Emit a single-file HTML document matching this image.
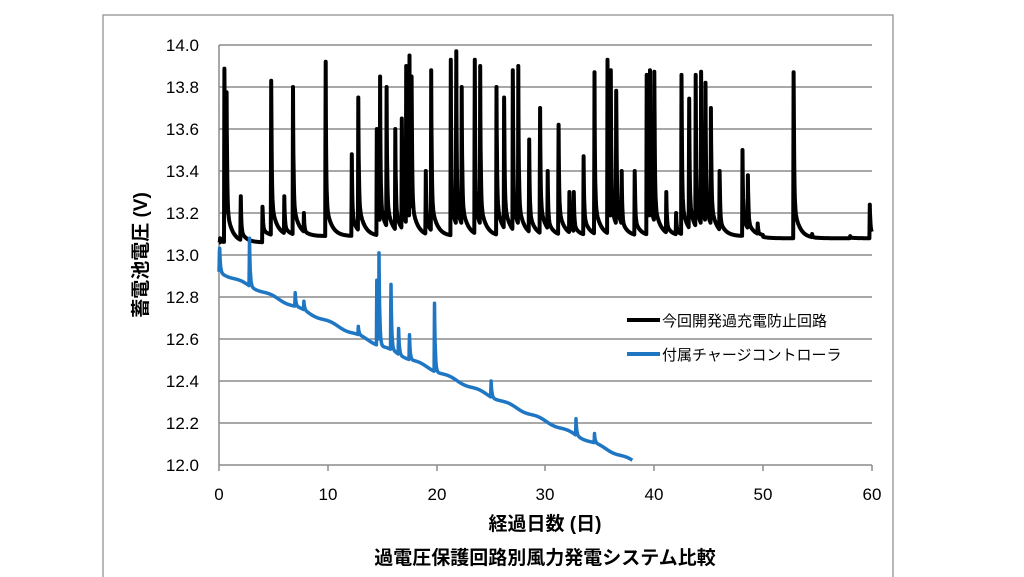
<!DOCTYPE html>
<html><head><meta charset="utf-8"><style>
html,body{margin:0;padding:0;background:#fff;width:1024px;height:577px;overflow:hidden}
svg{display:block}
svg text{font-family:"Liberation Sans","Noto Sans CJK JP",sans-serif}
</style></head><body>
<svg id="s" width="1024" height="577" xmlns="http://www.w3.org/2000/svg">
<rect x="103" y="15" width="790" height="570" fill="#fff" stroke="#a0a0a0" stroke-width="1.5"/>
<g stroke="#8c8c8c" stroke-width="1.5">
<line x1="219" y1="45" x2="872" y2="45"/><line x1="219" y1="87" x2="872" y2="87"/>
<line x1="219" y1="129" x2="872" y2="129"/><line x1="219" y1="171" x2="872" y2="171"/>
<line x1="219" y1="213" x2="872" y2="213"/><line x1="219" y1="255" x2="872" y2="255"/>
<line x1="219" y1="297" x2="872" y2="297"/><line x1="219" y1="339" x2="872" y2="339"/>
<line x1="219" y1="381" x2="872" y2="381"/><line x1="219" y1="423" x2="872" y2="423"/>
<line x1="219" y1="465" x2="872" y2="465"/>
<line x1="219" y1="45" x2="219" y2="465"/>
<line x1="219" y1="465" x2="219" y2="471"/><line x1="328" y1="465" x2="328" y2="471"/>
<line x1="437" y1="465" x2="437" y2="471"/><line x1="545" y1="465" x2="545" y2="471"/>
<line x1="654" y1="465" x2="654" y2="471"/><line x1="763" y1="465" x2="763" y2="471"/>
<line x1="872" y1="465" x2="872" y2="471"/>
</g>
<g font-size="17" text-anchor="end" fill="#000">
<text x="199" y="51">14.0</text><text x="199" y="93">13.8</text><text x="199" y="135">13.6</text>
<text x="199" y="177">13.4</text><text x="199" y="219">13.2</text><text x="199" y="261">13.0</text>
<text x="199" y="303">12.8</text><text x="199" y="345">12.6</text><text x="199" y="387">12.4</text>
<text x="199" y="429">12.2</text><text x="199" y="471">12.0</text>
</g>
<g font-size="17" text-anchor="middle">
<text x="219" y="500">0</text><text x="328" y="500">10</text><text x="437" y="500">20</text>
<text x="545" y="500">30</text><text x="654" y="500">40</text><text x="763" y="500">50</text><text x="872" y="500">60</text>
</g>
<text x="545" y="530" font-size="19" font-weight="bold" text-anchor="middle">経過日数 (日)</text>
<text x="545" y="564" font-size="19" font-weight="bold" text-anchor="middle">過電圧保護回路別風力発電システム比較</text>
<text transform="translate(147,255) rotate(-90)" font-size="19" font-weight="bold" text-anchor="middle">蓄電池電圧 (V)</text>
<line x1="627" y1="320" x2="660" y2="320" stroke="#000" stroke-width="4"/>
<text x="662" y="326" font-size="15">今回開発過充電防止回路</text>
<line x1="627" y1="354" x2="660" y2="354" stroke="#1f77c4" stroke-width="4"/>
<text x="662" y="360" font-size="15">付属チャージコントローラ</text>
<path id="blk" fill="none" stroke="#000" stroke-width="4" stroke-linejoin="round"/>
<path id="blu" fill="none" stroke="#1f77c4" stroke-width="3.5" stroke-linejoin="round"/>
</svg>
<script>
function X(t){return 219+t*653/60}
function Y(v){return 465-(v-12)*210}
var bs=[[0.1,13.08],[0.5,13.95],[0.7,13.8],[2,13.28],[4,13.23],[4.8,13.83],[6,13.28],[6.8,13.8],[7.8,13.2],[9.8,13.92],[12.2,13.48],[12.8,13.75],[14.5,13.6],[14.8,13.85],[15.4,13.8],[16.2,13.6],[16.8,13.65],[17.2,13.9],[17.5,13.95],[17.7,13.85],[19,13.4],[19.5,13.88],[21.3,13.93],[21.8,13.97],[22.3,13.8],[23.5,13.93],[24,13.9],[25.5,13.8],[26.2,13.75],[27,13.88],[27.5,13.9],[28.5,13.55],[29.5,13.7],[30.2,13.4],[31.2,13.62],[32.2,13.3],[32.6,13.3],[33.5,13.47],[34.5,13.87],[35.7,13.93],[36,13.93],[36.5,13.8],[37,13.4],[38.2,13.4],[39.3,13.9],[39.6,13.93],[40,13.92],[41.1,13.3],[42,13.2],[42.5,13.9],[43.2,13.75],[43.8,13.9],[44.3,13.92],[44.7,13.85],[45.2,13.7],[46,13.4],[48.1,13.5],[48.6,13.38],[49.5,13.15],[51.2,13.05],[52.8,13.92],[54.5,13.1],[55,13.08],[58,13.09],[59.8,13.24]];
function base(t){return t<4?13.06:(t<50?13.09:13.08)}
var d="";
for(var t=0;t<=60;t+=0.02){var b=base(t),v=b;
for(var i=0;i<bs.length;i++){var s=bs[i],dt=t-s[0];
if(dt>=-0.04&&dt<0){var u=b+(s[1]-b)*(1+dt/0.04);if(u>v)v=u;}
else if(dt>=0&&dt<4){var a=s[1]-b;var u=b+a*(0.75*Math.exp(-dt/0.05))+Math.min(0.16,a*0.25)*Math.exp(-dt/0.5);if(u>v)v=u;}}
d+=(d?"L":"M")+X(t).toFixed(1)+","+Y(v).toFixed(1);}
document.getElementById("blk").setAttribute("d",d);
var ss=[[0.05,13.05],[2.8,13.08],[7,12.82],[7.8,12.78],[12.8,12.66],[14.5,12.88],[14.7,13.01],[15.8,12.86],[16.5,12.65],[17.5,12.62],[19.8,12.77],[25,12.4],[32.8,12.22],[34.5,12.15]];
d="";
for(var t=0;t<=38;t+=0.02){var b=12.92-0.0237*t-0.005*Math.sin(t*2.3),v=b;
for(var i=0;i<ss.length;i++){var s=ss[i],dt=t-s[0];
if(dt>=-0.04&&dt<0){var u=b+(s[1]-b)*(1+dt/0.04);if(u>v)v=u;}
else if(dt>=0&&dt<2){var u=b+(s[1]-b)*Math.exp(-dt/0.07);if(u>v)v=u;}}
d+=(d?"L":"M")+X(t).toFixed(1)+","+Y(v).toFixed(1);}
document.getElementById("blu").setAttribute("d",d);
</script>
</body></html>
